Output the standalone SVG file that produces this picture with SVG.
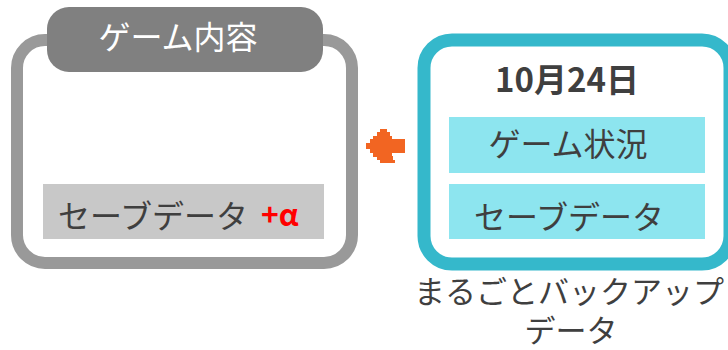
<svg xmlns="http://www.w3.org/2000/svg" width="728" height="350" viewBox="0 0 728 350">
<style>
.t{font-family:"Noto Sans CJK JP","Noto Sans",sans-serif;font-size:32px;fill:#3f3f3f;text-anchor:middle}
.w{fill:#ffffff}
.b{font-weight:bold;font-size:33px}
.r{fill:#ff0000;font-weight:bold;font-size:30px;text-anchor:start}
.s{font-size:31px}
</style>
<rect width="728" height="350" fill="#ffffff"/>
<g id="game-content">
<rect x="17" y="40" width="335" height="223" rx="28" fill="#ffffff" stroke="#999999" stroke-width="12"/>
<rect x="47" y="7" width="276" height="65" rx="22" fill="#808080"/>
<text class="t w" x="178" y="49">ゲーム内容</text>
<rect x="43" y="184" width="281" height="55" fill="#c8c8c8"/>
<text class="t" x="153" y="228">セーブデータ</text>
<text class="t r" x="261" y="226">+α</text>
</g>
<g id="backup">
<rect x="424" y="40" width="306" height="224" rx="28" fill="#ffffff" stroke="#35b8cb" stroke-width="13"/>
<text class="t b" x="567" y="92">10月24日</text>
<rect x="449" y="117" width="256" height="56" fill="#8de5ef"/>
<text class="t" x="568" y="156">ゲーム状況</text>
<rect x="449" y="184" width="256" height="55" fill="#8de5ef"/>
<text class="t" x="569" y="229">セーブデータ</text>
<text class="t s" x="569" y="303">まるごとバックアップ</text>
<text class="t s" x="571" y="342">データ</text>
</g>
<g id="connectors">
<polygon fill="#f26522" points="380,129 387,129 387,132 390,132 390,136 392,136 392,139 405,139 405,153 392,153 392,156 393,156 393,160 395,160 395,163 380,163 380,160 377,160 377,157 373,157 373,153 370,153 370,149 366,149 366,143 370,143 370,139 373,139 373,136 377,136 377,132 380,132"/>
</g>
</svg>
